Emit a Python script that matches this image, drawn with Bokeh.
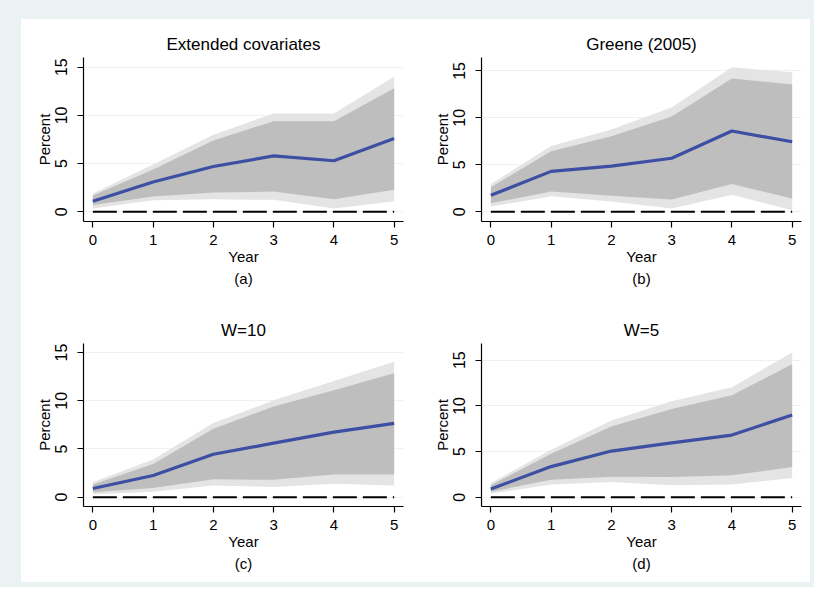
from bokeh.plotting import figure
from bokeh.models import Range1d, FixedTicker, Title, Spacer
from bokeh.layouts import row, column
from bokeh.embed import file_html
from bokeh.resources import INLINE

# ---------------- data ----------------
years = [0, 1, 2, 3, 4, 5]
zero_line = [0, 0, 0, 0, 0, 0]
titles = ["Extended covariates", "Greene (2005)", "W=10", "W=5"]
captions = ["(a)", "(b)", "(c)", "(d)"]
x_ticks = [0, 1, 2, 3, 4, 5]
y_ticks = [0, 5, 10, 15]

a_est = [1.1, 3.1, 4.7, 5.8, 5.3, 7.6]
a_hi95 = [1.9, 4.9, 8.0, 10.2, 10.2, 14.0]
a_hi90 = [1.7, 4.4, 7.4, 9.4, 9.4, 12.8]
a_lo90 = [0.7, 1.6, 2.0, 2.1, 1.3, 2.3]
a_lo95 = [0.35, 1.2, 1.3, 1.25, 0.35, 1.1]

b_est = [1.75, 4.3, 4.85, 5.7, 8.6, 7.45]
b_hi95 = [2.95, 7.0, 8.75, 11.1, 15.4, 14.85]
b_hi90 = [2.6, 6.45, 8.05, 10.15, 14.2, 13.55]
b_lo90 = [0.9, 2.15, 1.7, 1.3, 2.95, 1.4]
b_lo95 = [0.55, 1.65, 1.1, 0.35, 1.8, 0.15]

c_est = [0.9, 2.25, 4.45, 5.6, 6.75, 7.65]
c_hi95 = [1.55, 3.9, 7.7, 10.05, 12.05, 14.05]
c_hi90 = [1.3, 3.45, 7.1, 9.4, 11.1, 12.85]
c_lo90 = [0.5, 0.95, 1.85, 1.8, 2.35, 2.35]
c_lo95 = [0.3, 0.55, 1.2, 1.05, 1.4, 1.2]

d_est = [0.9, 3.35, 5.05, 5.95, 6.8, 9.0]
d_hi95 = [1.55, 5.2, 8.4, 10.5, 12.05, 15.85]
d_hi90 = [1.3, 4.75, 7.75, 9.65, 11.15, 14.55]
d_lo90 = [0.6, 1.9, 2.25, 2.2, 2.4, 3.3]
d_lo95 = [0.4, 1.4, 1.65, 1.3, 1.4, 2.1]

# ---------------- style ----------------
FONT = "Liberation Sans"
BG = "#eaf2f3"
OUTER = "#e4e4e4"
INNER = "#bebebe"
LINE = "#3c4fa3"


def panel(title, caption, est, lo95, lo90, hi90, hi95, yrange, width, height):
    p = figure(width=width, height=height, output_backend="svg",
               toolbar_location=None,
               x_range=Range1d(-0.155, 5.155), y_range=Range1d(*yrange),
               min_border_left=62, min_border_right=width - 62 - 320,
               min_border_top=38, min_border_bottom=height - 38 - 164 + (1 if height == 286 else 0) - (1 if height == 286 else 0))
    p.outline_line_color = None
    p.background_fill_color = "white"
    p.border_fill_color = "white"

    p.title.text = title
    p.title.align = "center"
    p.title.text_font = FONT
    p.title.text_font_size = "17px"
    p.title.text_font_style = "normal"
    p.title.text_color = "black"
    p.title.standoff = 7

    p.varea(x=years, y1=lo95, y2=hi95, fill_color=OUTER)
    p.varea(x=years, y1=lo90, y2=hi90, fill_color=INNER)
    p.line(years, zero_line, line_color="black", line_width=2,
           line_dash="24 6")
    p.line(years, est, line_color=LINE, line_width=3.2, line_join="round")

    p.xgrid.visible = False
    p.ygrid.ticker = FixedTicker(ticks=y_ticks)
    p.ygrid.grid_line_color = BG
    p.ygrid.grid_line_width = 1.2

    for ax, ticks in ((p.xaxis[0], x_ticks), (p.yaxis[0], y_ticks)):
        ax.ticker = FixedTicker(ticks=ticks)
        ax.minor_tick_line_color = None
        ax.major_tick_in = 0
        ax.major_tick_out = 6
        ax.axis_line_color = "black"
        ax.axis_line_width = 1.2
        ax.major_tick_line_color = "black"
        ax.major_tick_line_width = 1.2
        ax.major_label_text_font = FONT
        ax.major_label_text_font_size = "15px"
        ax.major_label_text_color = "black"
        ax.axis_label_text_font = FONT
        ax.axis_label_text_font_size = "15px"
        ax.axis_label_text_font_style = "normal"
        ax.axis_label_text_color = "black"
        ax.axis_label_standoff = 0

    p.xaxis.axis_label = "Year"
    p.xaxis.major_label_standoff = 7
    p.yaxis.axis_label = "Percent"
    p.yaxis.major_label_orientation = "vertical"
    p.yaxis.major_label_text_font_size = "16px"
    p.yaxis.major_label_standoff = 10

    cap = Title(text=caption, align="center", text_font=FONT,
                text_font_size="15px", text_font_style="normal",
                text_color="black", standoff=1)
    p.add_layout(cap, "below")
    return p


# widths/heights of the four panel cells
W1, W2 = 398, 391
H1, H2 = 286, 277

pa = panel(titles[0], captions[0], a_est, a_lo95, a_lo90, a_hi90, a_hi95,
           (-1.0, 16.0), W1, H1)
pb = panel(titles[1], captions[1], b_est, b_lo95, b_lo90, b_hi90, b_hi95,
           (-1.04, 16.43), W2, H1)
pc = panel(titles[2], captions[2], c_est, c_lo95, c_lo90, c_hi90, c_hi95,
           (-0.97, 15.94), W1, H2)
pd = panel(titles[3], captions[3], d_est, d_lo95, d_lo90, d_hi90, d_hi95,
           (-1.02, 16.83), W2, H2)
pc.min_border_bottom = H2 - 38 - 163
pd.min_border_bottom = H2 - 38 - 163

bgs = {"background-color": BG}
grid = column(row(pa, pb), row(pc, pd))
layout = column(
    Spacer(width=814, height=19, styles=bgs),
    row(Spacer(width=21, height=H1 + H2, styles=bgs), grid,
        Spacer(width=4, height=H1 + H2, styles=bgs)),
    Spacer(width=814, height=5, styles=bgs),
)

open("out.html", "w").write(file_html(layout, INLINE))
